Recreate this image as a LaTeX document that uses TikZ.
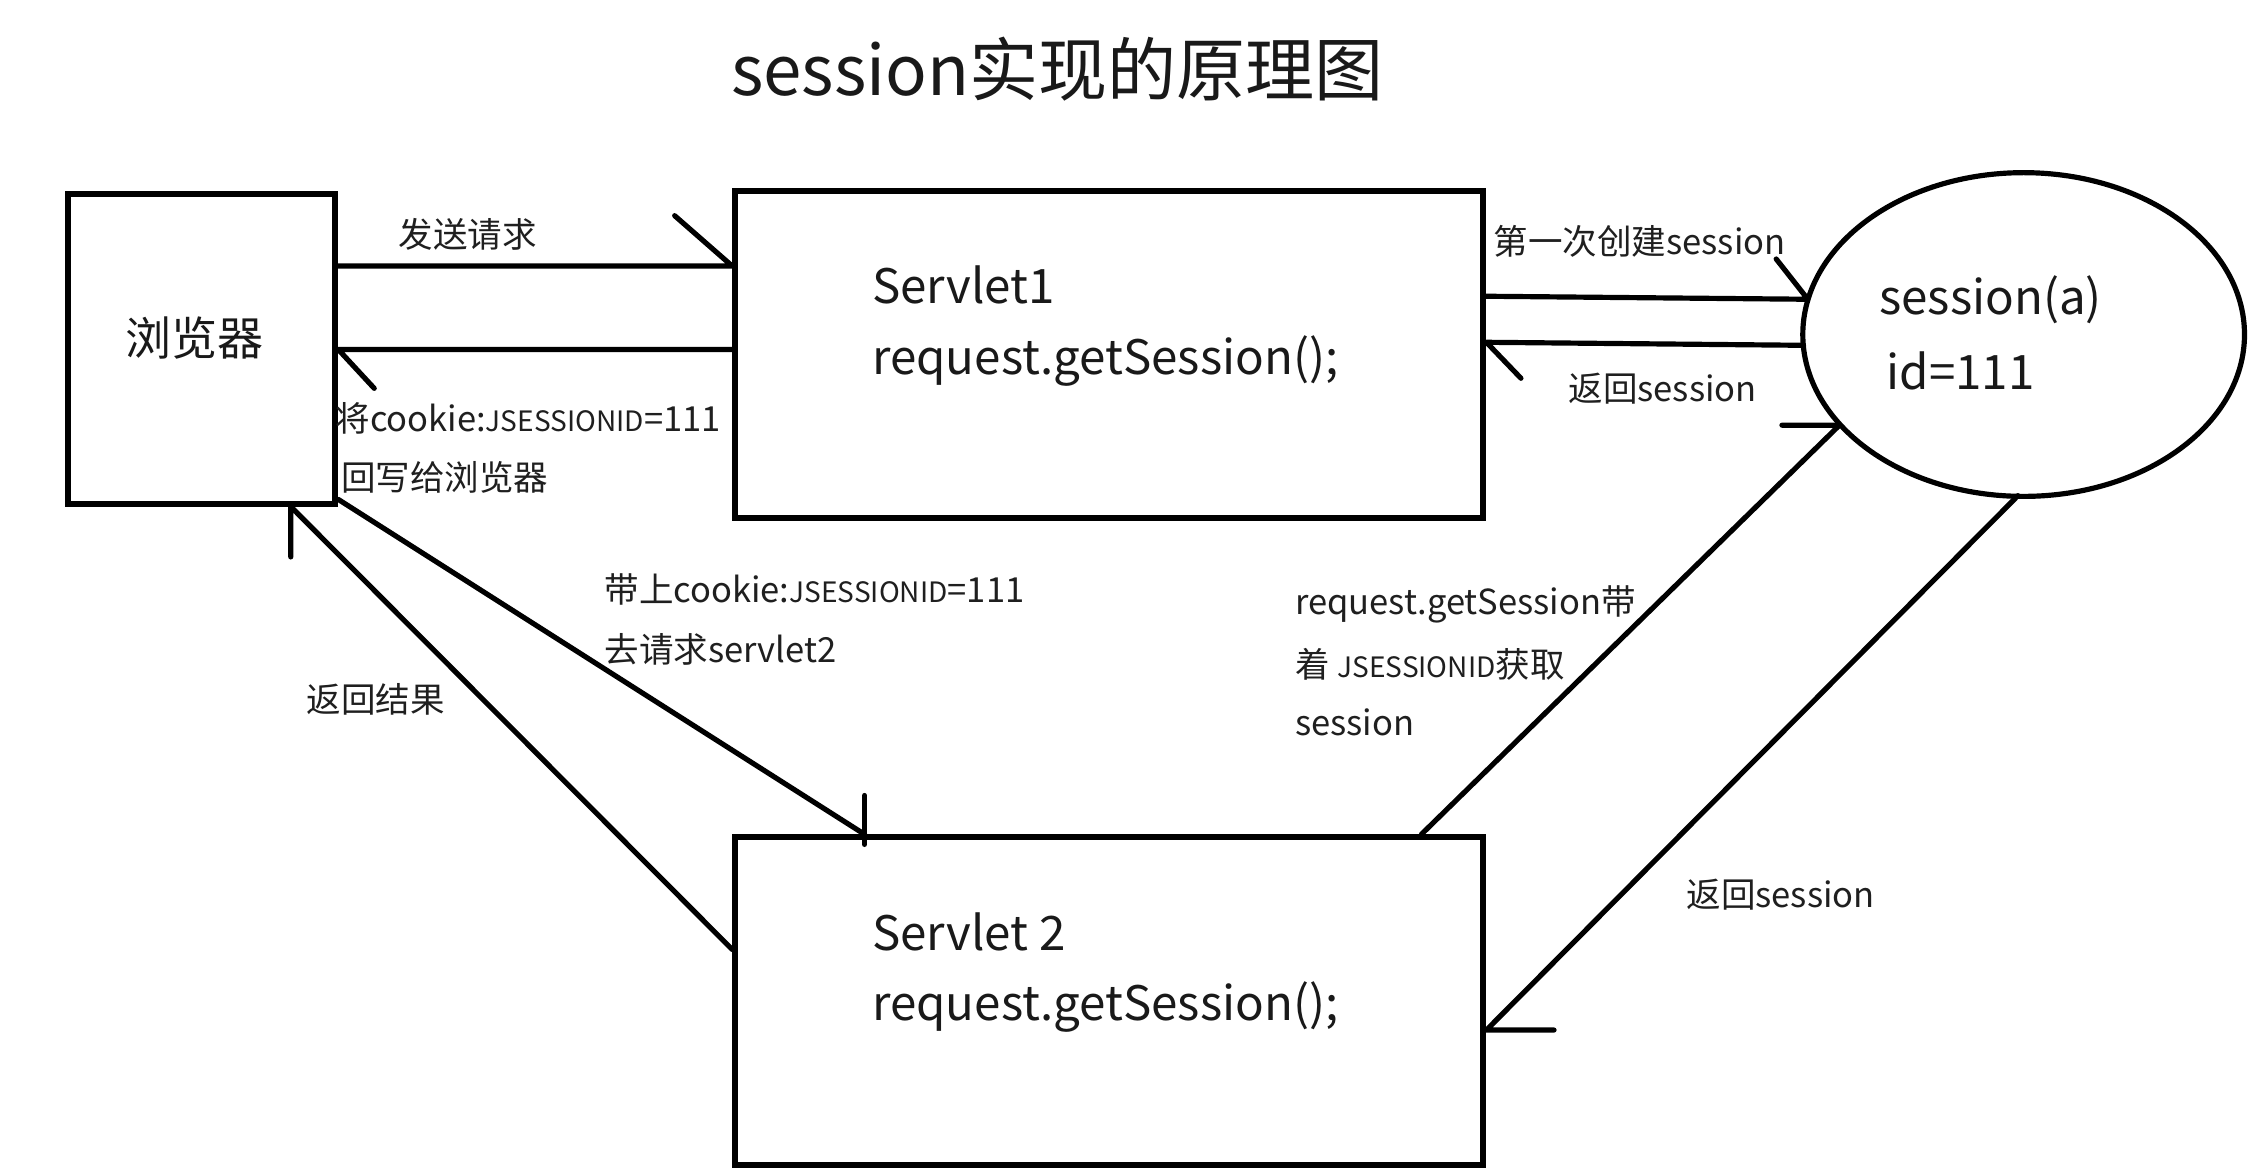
\documentclass[tikz,border=0pt]{standalone}
\usepackage{fontspec}
\setmainfont{Noto Sans CJK SC}
\usetikzlibrary{shapes.geometric}
\newcommand{\jsid}{{\fontsize{19.5}{24}\selectfont JSESSIONID}}
\begin{document}
\begin{tikzpicture}[x=1pt,y=-1pt,
  box/.style={draw, line width=4.2pt, inner sep=0pt},
  conn/.style={line width=3.6pt, line join=round, line cap=round},
  lbl/.style={anchor=west, inner sep=0pt, font=\fontsize{24}{28}\selectfont, text=black!88},
  big/.style={anchor=west, inner sep=0pt, font=\fontsize{33}{38}\selectfont, text=black!90}]
\useasboundingbox (0,0) rectangle (1568,816);
\node[anchor=center, inner sep=0pt, font=\fontsize{48}{54}\selectfont, text=black!90] (title) at (735,48) {session实现的原理图};
\node[box, minimum width=186pt, minimum height=215pt] (br) at (140,242.5) {};
\node[box, minimum width=520pt, minimum height=227pt] (s1) at (771,246.5) {};
\node[box, minimum width=520pt, minimum height=228pt] (s2) at (771,696) {};
\node[draw, ellipse, line width=3.6pt, inner sep=0pt, minimum width=307pt, minimum height=225pt] (ss) at (1406.5,232.5) {};
% box texts
\node[anchor=center, inner sep=0pt, font=\fontsize{32}{36}\selectfont, text=black!90] (t0) at (135,235) {浏览器};
\node[big] (t1a) at (606,198) {Servlet1};
\node[big] (t1b) at (606,251) {request.getSession();};
\node[big] (t2a) at (606,648) {Servlet 2};
\node[big] (t2b) at (606,700) {request.getSession();};
\node[big] (t3a) at (1306,208) {session(a)};
\node[big] (t3b) at (1311,258) {id=111};
% connectors
\draw[conn] ([yshift=-52pt]br.north east) -- ([yshift=-54pt]s1.north west) -- ++(-40,-35);
\draw[conn] ([yshift=-112pt]s1.north west) -- ([yshift=-110pt]br.north east) -- ++(25,27);
\draw[conn] ([yshift=-75pt]s1.north east) -- ([xshift=-150pt,yshift=24.5pt]ss.center) -- ++(-22,-28);
\draw[conn] ([xshift=-153pt,yshift=-7.5pt]ss.center) -- ([yshift=-107pt]s1.north east) -- ++(24,25);
\draw[conn] ([xshift=479pt]s2.north west) -- ([xshift=-128pt,yshift=-63pt]ss.center) -- ++(-40,0);
\draw[conn] ([xshift=-4pt,yshift=-112pt]ss.center) -- ([yshift=-136pt]s2.north east) -- ++(47,0);
\draw[conn] ([yshift=5pt]br.south east) -- ([xshift=92pt]s2.north west);
\draw[conn] ([xshift=92pt,yshift=27pt]s2.north west) -- ([xshift=92pt,yshift=-7pt]s2.north west);
\draw[conn] ([yshift=-80pt]s2.north west) -- ([xshift=-33pt]br.south east) -- ++(0,35);
% labels
\node[lbl] (l1) at (277,163) {发送请求};
\node[lbl] (l2a) at (233,291) {将cookie:\jsid=111};
\node[lbl] (l2b) at (237,332) {回写给浏览器};
\node[lbl] (l3) at (1038,168) {第一次创建session};
\node[lbl] (l4) at (1090,270) {返回session};
\node[lbl] (l5a) at (900,420) {request.getSession带};
\node[lbl] (l5b) at (900,462) {着 \jsid 获取};
\node[lbl] (l5c) at (900,502) {session};
\node[lbl] (l6) at (1172,622) {返回session};
\node[lbl] (l7a) at (420,410) {带上cookie:\jsid=111};
\node[lbl] (l7b) at (420,451) {去请求servlet2};
\node[lbl] (l8) at (213,486) {返回结果};
\end{tikzpicture}
\end{document}
